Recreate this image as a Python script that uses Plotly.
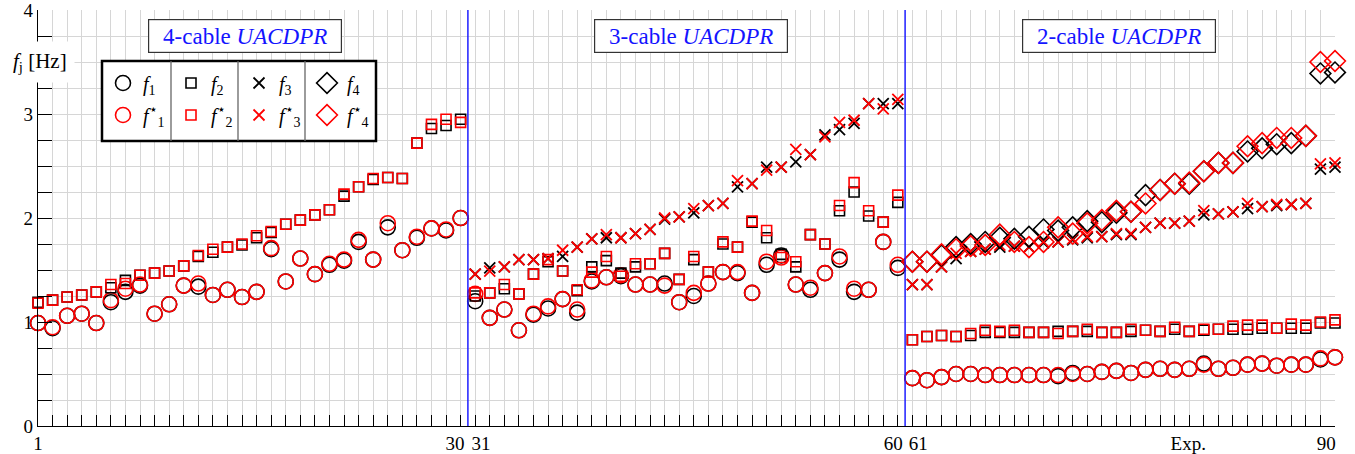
import plotly.graph_objects as go

# ---------------- data ----------------
exps = list(range(1, 91))
N = None

f1_seg1 = [0.99,0.94,1.06,1.08,0.99,1.19,1.29,1.35,1.08,1.17,1.35,1.34,1.26,1.31,1.24,1.29,1.70,1.39,1.61,1.46,1.55,1.59,1.77,1.60,1.91,1.69,1.81,1.90,1.88,2.00]
f1s_seg1 = [0.99,0.95,1.06,1.08,0.99,1.21,1.32,1.36,1.08,1.17,1.35,1.37,1.26,1.31,1.24,1.29,1.71,1.39,1.61,1.46,1.56,1.60,1.79,1.60,1.95,1.69,1.82,1.90,1.89,2.00]
f2_seg1 = [1.19,1.21,1.24,1.26,1.29,1.33,1.40,1.45,1.47,1.49,1.54,1.63,1.67,1.72,1.74,1.81,1.86,1.94,1.98,2.03,2.08,2.21,2.30,2.37,2.39,2.38,2.72,2.86,2.89,2.95]
f2s_seg1 = [1.18,1.21,1.24,1.26,1.29,1.36,1.37,1.45,1.47,1.49,1.54,1.64,1.70,1.72,1.75,1.83,1.87,1.94,1.98,2.03,2.08,2.23,2.30,2.38,2.39,2.38,2.72,2.90,2.95,2.92]

f1_seg2 = [1.20,1.04,1.12,0.92,1.07,1.13,1.22,1.09,1.39,1.43,1.44,1.36,1.36,1.37,1.19,1.25,1.37,1.48,1.47,1.28,1.55,1.64,1.36,1.31,1.47,1.60,1.29,1.31,1.77,1.52]
f1s_seg2 = [1.27,1.04,1.12,0.92,1.08,1.15,1.22,1.12,1.40,1.43,1.45,1.36,1.36,1.35,1.19,1.28,1.37,1.48,1.48,1.28,1.58,1.62,1.36,1.33,1.47,1.63,1.32,1.31,1.77,1.55]
f2_seg2 = [1.25,1.28,1.32,1.27,1.46,1.58,1.49,1.30,1.53,1.59,1.47,1.53,1.56,1.66,1.41,1.60,1.48,1.75,1.72,1.96,1.81,1.65,1.53,1.84,1.75,2.07,2.25,2.02,1.96,2.15]
f2s_seg2 = [1.28,1.28,1.36,1.27,1.46,1.60,1.49,1.31,1.48,1.63,1.44,1.56,1.56,1.66,1.41,1.63,1.48,1.77,1.72,1.97,1.88,1.62,1.58,1.84,1.75,2.12,2.34,2.07,1.96,2.22]
f3_seg2 = [1.46,1.52,1.53,1.60,1.60,1.61,1.63,1.72,1.80,1.81,1.81,1.85,1.89,1.99,2.01,2.05,2.12,2.14,2.30,2.33,2.49,2.49,2.54,2.61,2.80,2.85,2.91,3.10,3.10,3.10]
f3s_seg2 = [1.46,1.49,1.53,1.60,1.60,1.61,1.69,1.72,1.80,1.84,1.81,1.85,1.89,2.00,2.01,2.09,2.12,2.14,2.36,2.33,2.46,2.49,2.66,2.61,2.78,2.92,2.94,3.10,3.05,3.14]

f1_seg3 = [0.46,0.44,0.47,0.50,0.50,0.49,0.49,0.49,0.49,0.49,0.48,0.51,0.50,0.52,0.53,0.51,0.54,0.55,0.54,0.55,0.60,0.55,0.56,0.59,0.60,0.58,0.59,0.59,0.64,0.66]
f1s_seg3 = [0.46,0.44,0.47,0.50,0.50,0.49,0.49,0.49,0.49,0.49,0.49,0.50,0.50,0.52,0.53,0.51,0.54,0.55,0.54,0.55,0.59,0.55,0.56,0.59,0.60,0.58,0.59,0.59,0.65,0.66]
f2_seg3 = [0.83,0.86,0.87,0.86,0.87,0.90,0.90,0.90,0.90,0.90,0.91,0.91,0.91,0.90,0.90,0.91,0.92,0.91,0.93,0.91,0.92,0.93,0.93,0.93,0.94,0.94,0.94,0.94,0.99,0.99]
f2s_seg3 = [0.83,0.86,0.87,0.86,0.89,0.92,0.91,0.92,0.90,0.90,0.89,0.91,0.93,0.90,0.90,0.93,0.92,0.91,0.95,0.91,0.93,0.93,0.96,0.97,0.97,0.94,0.98,0.97,1.00,1.02]
f3_seg3 = [1.36,1.36,1.53,1.61,1.68,1.70,1.72,1.73,1.72,1.76,1.77,1.79,1.81,1.82,1.84,1.84,1.91,1.95,1.95,1.97,2.03,2.04,2.06,2.09,2.11,2.12,2.13,2.14,2.47,2.49]
f3s_seg3 = [1.36,1.36,1.53,1.66,1.68,1.70,1.74,1.73,1.72,1.77,1.77,1.80,1.82,1.82,1.85,1.85,1.91,1.95,1.95,1.97,2.07,2.04,2.06,2.14,2.11,2.13,2.13,2.14,2.52,2.53]
f4_seg3 = [1.58,1.58,1.64,1.72,1.75,1.77,1.81,1.80,1.82,1.89,1.88,1.91,1.97,1.96,2.05,2.06,2.22,2.27,2.33,2.33,2.45,2.53,2.53,2.64,2.67,2.71,2.72,2.79,3.39,3.40]
f4s_seg3 = [1.58,1.58,1.65,1.70,1.73,1.74,1.84,1.77,1.72,1.77,1.91,1.85,1.95,1.98,2.07,2.06,2.14,2.27,2.33,2.34,2.45,2.53,2.53,2.69,2.72,2.77,2.77,2.79,3.50,3.51]

none30 = [N] * 30
f1 = f1_seg1 + f1_seg2 + f1_seg3
f1s = f1s_seg1 + f1s_seg2 + f1s_seg3
f2 = f2_seg1 + f2_seg2 + f2_seg3
f2s = f2s_seg1 + f2s_seg2 + f2s_seg3
f3 = none30 + f3_seg2 + f3_seg3
f3s = none30 + f3s_seg2 + f3s_seg3
f4 = none30 + none30 + f4_seg3
f4s = none30 + none30 + f4s_seg3

# tick labels (placed slightly apart where pairs would touch); tick marks every experiment
x_label_pos = [1, 29.62, 31.4, 59.68, 61.4, 79.93, 89.4]
x_label_txt = ["1", "30", "31", "60", "61", "Exp.", "90"]
y_tickvals = [0, 1, 2, 3, 4]
separators = [30.5, 60.5]
titles = ["4-cable <i>UACDPR</i>", "3-cable <i>UACDPR</i>", "2-cable <i>UACDPR</i>"]
title_x = [15.2, 45.8, 75.2]

FONT = "Liberation Serif"

series = [
    ("<i>f</i><sub>1</sub>", f1, "black", "circle-open", 15, "legend"),
    ("<i>f</i><sup>⋆</sup><sub>1</sub>", f1s, "red", "circle-open", 15, "legend2"),
    ("<i>f</i><sub>2</sub>", f2, "black", "square-open", 10, "legend"),
    ("<i>f</i><sup>⋆</sup><sub>2</sub>", f2s, "red", "square-open", 10, "legend2"),
    ("<i>f</i><sub>3</sub>", f3, "black", "x-thin-open", 11, "legend"),
    ("<i>f</i><sup>⋆</sup><sub>3</sub>", f3s, "red", "x-thin-open", 11, "legend2"),
    ("<i>f</i><sub>4</sub>", f4, "black", "diamond-open", 16, "legend"),
    ("<i>f</i><sup>⋆</sup><sub>4</sub>", f4s, "red", "diamond-open", 16, "legend2"),
]

fig = go.Figure()
for name, ys, col, sym, size, lg in series:
    fig.add_trace(go.Scatter(
        x=exps, y=ys, mode="markers", name=name, legend=lg,
        cliponaxis=False,
        marker=dict(symbol=sym, size=size, color=col,
                    line=dict(color=col, width=1.8 if sym.startswith("x") else 1.6)),
    ))

# ---------------- geometry helpers (paper coords) ----------------
W, H = 1355, 454
ML, MR, MT, MB = 38, 20, 10, 28
PW, PH = W - ML - MR, H - MT - MB

def px(xp):
    return (xp - ML) / PW

def py(yp):
    return (H - MB - yp) / PH

shapes = []
for s in separators:
    shapes.append(dict(type="line", xref="x", yref="y", x0=s, x1=s, y0=0, y1=4,
                       line=dict(color="rgb(30,30,255)", width=1.5), layer="above"))
# legend frame
shapes.append(dict(type="rect", xref="paper", yref="paper",
                   x0=px(102), x1=px(376), y0=py(141), y1=py(61),
                   fillcolor="white", line=dict(color="black", width=2.5), layer="above"))
for xd in [171, 238, 305]:
    shapes.append(dict(type="line", xref="paper", yref="paper",
                       x0=px(xd), x1=px(xd), y0=py(141), y1=py(61),
                       line=dict(color="#666666", width=1.3), layer="above"))

annotations = []
for t, xc in zip(titles, title_x):
    annotations.append(dict(x=xc, y=py(36), xref="x", yref="paper", text=t, showarrow=False,
                            xanchor="center", yanchor="middle",
                            font=dict(family=FONT, size=23, color="rgb(20,20,255)"),
                            bgcolor="white", bordercolor="#333333", borderwidth=1.2,
                            borderpad=2, width=188, height=28))
annotations.append(dict(x=px(40), y=py(62), xref="paper", yref="paper",
                        xanchor="center", yanchor="middle",
                        text="<i>f</i><sub>j</sub> [Hz]", showarrow=False,
                        font=dict(family=FONT, size=21, color="black"),
                        bgcolor="white", borderpad=7))

fig.update_layout(
    width=W, height=H,
    margin=dict(l=ML, r=MR, t=MT, b=MB, autoexpand=False),
    paper_bgcolor="white", plot_bgcolor="white",
    font=dict(family=FONT, size=19, color="black"),
    shapes=shapes, annotations=annotations,
    legend=dict(orientation="h", x=px(103), xanchor="left", y=py(83), yanchor="middle",
                bgcolor="rgba(0,0,0,0)", borderwidth=0, entrywidth=23, entrywidthmode="pixels",
                font=dict(family=FONT, size=20), itemclick=False, tracegroupgap=0),
    legend2=dict(orientation="h", x=px(103), xanchor="left", y=py(115), yanchor="middle",
                 bgcolor="rgba(0,0,0,0)", borderwidth=0, entrywidth=23, entrywidthmode="pixels",
                 font=dict(family=FONT, size=20), itemclick=False, tracegroupgap=0),
)

fig.update_xaxes(
    range=[1, 90], showline=True, linecolor="black", linewidth=1.3, zeroline=False,
    automargin=False, tickangle=0, ticklabeloverflow="allow",
    tickvals=x_label_pos, ticktext=x_label_txt, ticks="inside", ticklen=0, tickwidth=0,
    showgrid=False, tickfont=dict(family=FONT, size=19),
    minor=dict(tick0=1, dtick=1, ticks="inside", ticklen=11, tickwidth=1.3, tickcolor="black",
               showgrid=True, gridcolor="#d6d6d6", gridwidth=1),
)
fig.update_yaxes(
    range=[0, 4.0001], showline=True, linecolor="black", linewidth=1.3, zeroline=False,
    automargin=False, ticklabeloverflow="allow",
    tickvals=y_tickvals, ticks="inside", ticklen=14, tickwidth=1.3, tickcolor="black",
    showgrid=True, gridcolor="#d6d6d6", gridwidth=1, tickfont=dict(family=FONT, size=19),
    minor=dict(tick0=0, dtick=0.25, ticks="inside", ticklen=14, tickwidth=1.3, tickcolor="black",
               showgrid=True, gridcolor="#d6d6d6", gridwidth=1),
)

fig.write_html("out.html")
